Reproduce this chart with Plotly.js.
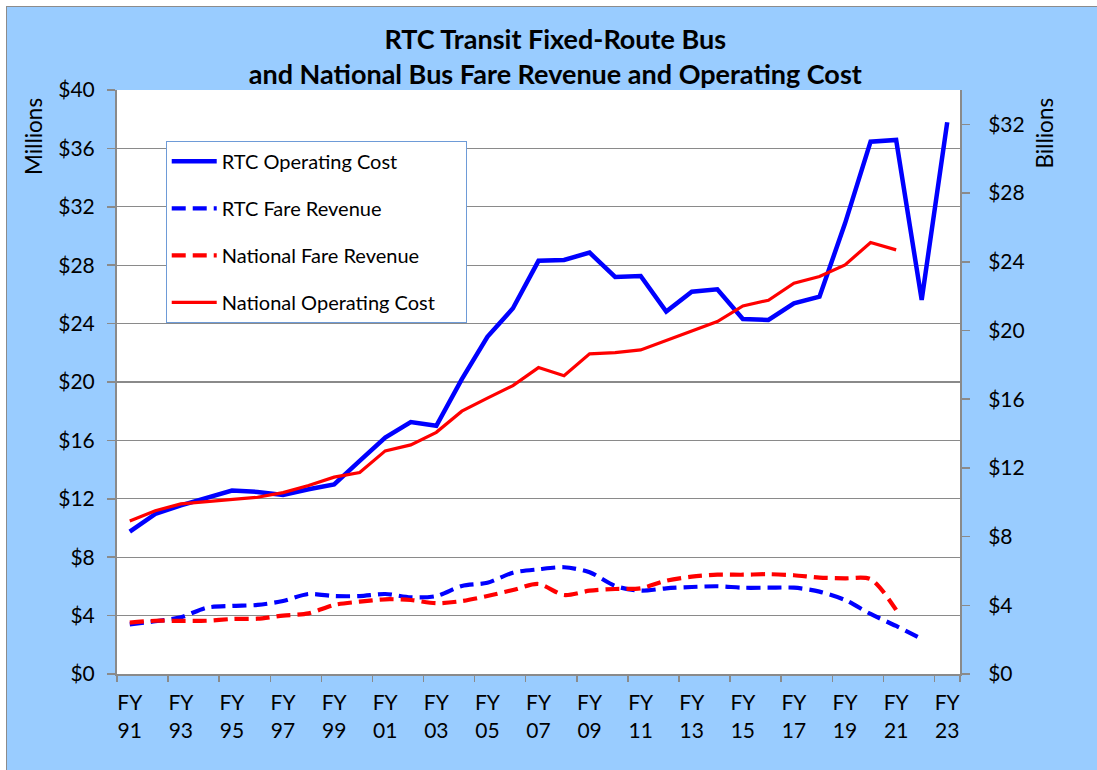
<!DOCTYPE html>
<html><head><meta charset="utf-8">
<script src="https://cdn.plot.ly/plotly-3.0.1.min.js"></script>
<style>
html,body{margin:0;padding:0;background:#ffffff;}
#frame{position:absolute;left:6px;top:6px;width:1090px;height:763px;border-left:1px solid #8c8c8c;border-top:1px solid #8c8c8c;background:#99CCFF;}
#chart{width:1090px;height:763px;}
</style></head><body>
<div id="frame"><div id="chart"></div></div>
<script>
// Fiscal years FY91 .. FY23
const fiscalYears = ['91','92','93','94','95','96','97','98','99','00','01','02','03','04','05','06','07','08','09','10','11','12','13','14','15','16','17','18','19','20','21','22','23'];
// RTC (left axis, $ millions)
const rtcOperatingCost = [9.75,10.96,11.55,12.03,12.56,12.47,12.26,12.65,12.99,14.6,16.2,17.26,17.0,20.2,23.1,25.05,28.3,28.36,28.86,27.2,27.26,24.82,26.18,26.35,24.32,24.25,25.39,25.84,30.87,36.46,36.58,25.62,37.79];
const rtcFareRevenue = [3.40,3.61,3.88,4.54,4.66,4.73,5.0,5.48,5.34,5.34,5.48,5.25,5.34,6.03,6.25,6.94,7.17,7.31,6.97,6.03,5.71,5.87,5.96,6.01,5.91,5.91,5.91,5.64,5.07,4.11,3.29,2.40];
// National (right axis, $ billions)
const nationalFareRevenue = [2.99,3.10,3.09,3.10,3.20,3.22,3.40,3.53,4.02,4.21,4.35,4.31,4.12,4.25,4.54,4.89,5.24,4.60,4.85,4.95,4.99,5.43,5.67,5.78,5.78,5.81,5.75,5.61,5.57,5.52,3.73];
const nationalOperatingCost = [8.91,9.51,9.90,10.03,10.13,10.29,10.56,10.97,11.46,11.73,12.99,13.34,14.07,15.3,16.06,16.79,17.84,17.36,18.64,18.71,18.87,19.41,19.94,20.52,21.43,21.76,22.75,23.14,23.82,25.12,24.69];

const seriesNames = ['RTC Operating Cost','RTC Fare Revenue','National Fare Revenue','National Operating Cost'];
const chartTitle = 'RTC Transit Fixed-Route Bus<br>and National Bus Fare Revenue and Operating Cost';

const categories = fiscalYears.map(y => 'FY<br>' + y);
const labelled = categories.filter((c, i) => i % 2 === 0);

const FONT = 'Lato, "Open Sans", sans-serif';
const GRID = '#8a8a8a';
const PAD = '\u00a0\u00a0\u00a0\u00a0\u00a0';

const traces = [
  {x: categories.slice(0, rtcOperatingCost.length), y: rtcOperatingCost, name: seriesNames[0], type: 'scatter', mode: 'lines',
   line: {color: '#0000FF', width: 4.5}, legendgroup: 'a', yaxis: 'y'},
  {x: categories.slice(0, rtcFareRevenue.length), y: rtcFareRevenue, name: seriesNames[1], type: 'scatter', mode: 'lines',
   line: {color: '#0000FF', width: 4.2, dash: '14px,7px', shape: 'spline', smoothing: 0.8}, legendgroup: 'b', yaxis: 'y'},
  {x: categories.slice(0, nationalFareRevenue.length), y: nationalFareRevenue, name: seriesNames[2], type: 'scatter', mode: 'lines',
   line: {color: '#FF0000', width: 4.2, dash: '14px,7px', shape: 'spline', smoothing: 0.8}, legendgroup: 'c', yaxis: 'y2'},
  {x: categories.slice(0, nationalOperatingCost.length), y: nationalOperatingCost, name: seriesNames[3] + PAD, type: 'scatter', mode: 'lines',
   line: {color: '#FF0000', width: 3.2}, legendgroup: 'd', yaxis: 'y2'}
];

const layout = {
  width: 1090, height: 763,
  paper_bgcolor: '#99CCFF', plot_bgcolor: '#FFFFFF',
  margin: {l: 110, r: 137, t: 83, b: 96},
  font: {family: FONT, color: '#000000'},
  title: {text: chartTitle, font: {family: FONT, size: 27, weight: 'bold', color: '#000'},
          x: 0.503, xref: 'container', xanchor: 'center', y: 0.945, yref: 'container', yanchor: 'top'},
  showlegend: true,
  legend: {x: 0.0578, y: 0.913, xanchor: 'left', yanchor: 'top', bgcolor: '#FFFFFF', bordercolor: '#6E9BD7', borderwidth: 1,
           font: {family: FONT, size: 20, color: '#000'}, traceorder: 'grouped', tracegroupgap: 18, itemwidth: 45},
  xaxis: {type: 'category', categoryorder: 'array', categoryarray: categories, range: [-0.5, categories.length - 0.5],
          tickmode: 'array', tickvals: labelled, ticktext: labelled, tickson: 'boundaries', tickangle: 0,
          ticks: 'outside', ticklen: 6, tickwidth: 1.5, tickcolor: GRID, showgrid: false,
          showline: true, linecolor: GRID, linewidth: 2, tickfont: {family: FONT, size: 21, color: '#000'},
          ticklabelstandoff: 9, fixedrange: true},
  yaxis: {range: [0, 40], tickmode: 'linear', tick0: 0, dtick: 4, tickprefix: '$',
          ticks: 'outside', ticklen: 8, tickwidth: 1.5, tickcolor: GRID, showgrid: true, gridcolor: GRID, gridwidth: 1.3,
          zeroline: false, showline: true, linecolor: GRID, linewidth: 2,
          tickfont: {family: FONT, size: 21, color: '#000'}, ticklabelstandoff: 8, fixedrange: true},
  yaxis2: {range: [0, 34], tickmode: 'linear', tick0: 0, dtick: 4, tickprefix: '$', overlaying: 'y', side: 'right',
           ticks: 'outside', ticklen: 8, tickwidth: 1.5, tickcolor: GRID, showgrid: false, zeroline: false,
           showline: true, linecolor: GRID, linewidth: 2,
           tickfont: {family: FONT, size: 21, color: '#000'}, ticklabelstandoff: 14, fixedrange: true},
  annotations: [
    {text: 'Millions', xref: 'paper', yref: 'paper', x: -0.0996, y: 0.9195, textangle: -90, showarrow: false,
     xanchor: 'center', yanchor: 'middle', font: {family: FONT, size: 22.5, color: '#000'}},
    {text: 'Billions', xref: 'paper', yref: 'paper', x: 1.1008, y: 0.927, textangle: -90, showarrow: false,
     xanchor: 'center', yanchor: 'middle', font: {family: FONT, size: 22.5, color: '#000'}}
  ]
};

Plotly.newPlot('chart', traces, layout, {displayModeBar: false, staticPlot: true});
</script>
</body></html>
